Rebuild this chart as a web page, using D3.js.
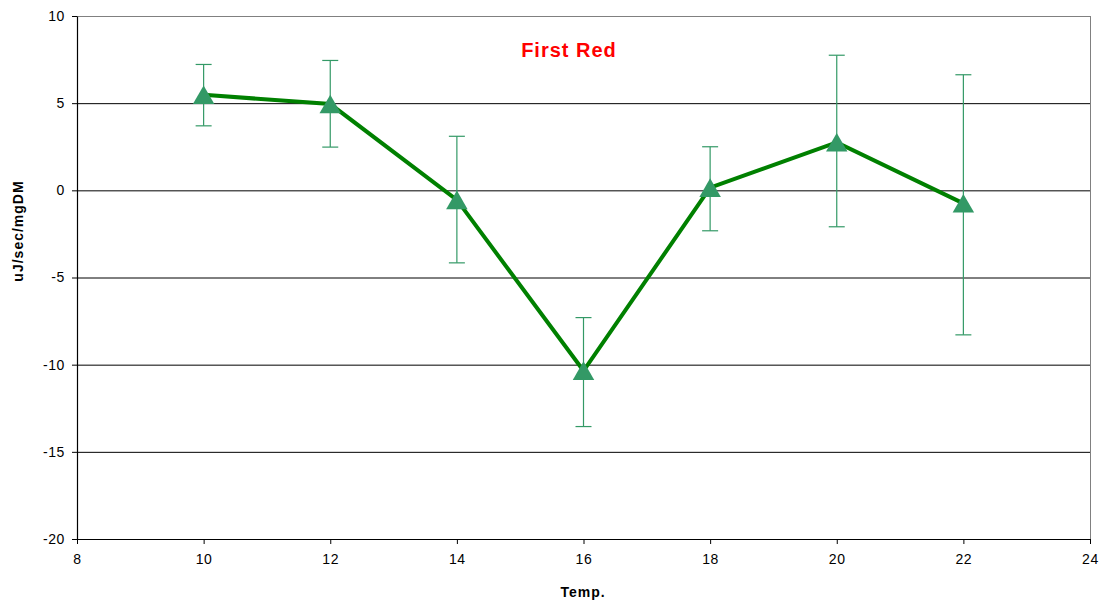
<!DOCTYPE html>
<html>
<head>
<meta charset="utf-8">
<script src="https://cdn.jsdelivr.net/npm/d3@7"></script>
<style>
  body { margin: 0; background: #fff; }
  svg { font-family: "Liberation Sans", Arial, sans-serif; }
</style>
</head>
<body>
<div id="container"></div>
<script>
// data
const temps = [10, 12, 14, 16, 18, 20, 22]
const values = [5.48, 4.95, -0.55, -10.35, 0.15, 2.75, -0.75]
const errHigh = [7.22, 7.45, 3.1, -7.3, 2.5, 7.75, 6.63]
const errLow = [3.7, 2.48, -4.16, -13.55, -2.32, -2.09, -8.29]
const xTicks = [8, 10, 12, 14, 16, 18, 20, 22, 24]
const yTicks = [10, 5, 0, -5, -10, -15, -20]

const width = 1103
const height = 606
const plotLeft = 77, plotRight = 1090, plotTop = 16, plotBottom = 539

const data = temps.map((t, i) => ({t, v: values[i], hi: errHigh[i], lo: errLow[i]}))

const xScale = d3.scaleLinear().domain([8, 24]).range([plotLeft, plotRight])
const yScale = d3.scaleLinear().domain([-20, 10]).range([plotBottom, plotTop])

const svg = d3.select('#container').append('svg')
    .attr('width', width)
    .attr('height', height)

// gridlines
svg.append('g')
    .selectAll('line')
    .data(yTicks.filter(d => d !== -20 && d !== 10))
    .enter().append('line')
    .attr('x1', plotLeft).attr('x2', plotRight)
    .attr('y1', d => yScale(d) + 0.5).attr('y2', d => yScale(d) + 0.5)
    .attr('stroke', '#000').attr('stroke-width', 1)

// frame top/right
svg.append('line').attr('x1', plotLeft).attr('x2', plotRight).attr('y1', plotTop + 0.5).attr('y2', plotTop + 0.5)
    .attr('stroke', '#808080')
svg.append('line').attr('x1', plotRight + 0.5).attr('x2', plotRight + 0.5).attr('y1', plotTop).attr('y2', plotBottom)
    .attr('stroke', '#808080')

const fmt = d => String(d)
const xAxis = d3.axisBottom(xScale).tickValues(xTicks).tickFormat(fmt).tickSize(5).tickPadding(10).tickSizeOuter(0)
const yAxis = d3.axisLeft(yScale).tickValues(yTicks).tickFormat(fmt).tickSize(5).tickPadding(7).tickSizeOuter(0)

const gx = svg.append('g')
    .attr('transform', `translate(0, ${plotBottom})`)
    .call(xAxis)
const gy = svg.append('g')
    .attr('transform', `translate(${plotLeft}, 0)`)
    .call(yAxis)

for (const g of [gx, gy]) {
    g.selectAll('path').attr('stroke', '#000').attr('stroke-width', 1.2)
    g.selectAll('line').attr('stroke', '#000')
    g.selectAll('text').attr('font-size', 14).attr('fill', '#000')
        .attr('letter-spacing', 0.6)
        .attr('font-family', '"Liberation Sans", Arial, sans-serif')
}

// error bars
const eb = svg.append('g').attr('stroke', '#339966').attr('stroke-width', 1.2)
eb.selectAll('.stem').data(data).enter().append('line')
    .attr('x1', d => xScale(d.t)).attr('x2', d => xScale(d.t))
    .attr('y1', d => yScale(d.hi)).attr('y2', d => yScale(d.lo))
eb.selectAll('.caphi').data(data).enter().append('line')
    .attr('x1', d => xScale(d.t) - 8).attr('x2', d => xScale(d.t) + 8)
    .attr('y1', d => yScale(d.hi)).attr('y2', d => yScale(d.hi))
eb.selectAll('.caplo').data(data).enter().append('line')
    .attr('x1', d => xScale(d.t) - 8).attr('x2', d => xScale(d.t) + 8)
    .attr('y1', d => yScale(d.lo)).attr('y2', d => yScale(d.lo))

// line
const line = d3.line().x(d => xScale(d.t)).y(d => yScale(d.v))
svg.append('path')
    .datum(data)
    .attr('d', line)
    .attr('fill', 'none')
    .attr('stroke', '#008000')
    .attr('stroke-width', 4)

// markers
const tri = d3.symbol().type(d3.symbolTriangle).size(200)
svg.selectAll('.dot').data(data).enter().append('path')
    .attr('d', tri)
    .attr('transform', d => `translate(${xScale(d.t)}, ${yScale(d.v) + 3})`)
    .attr('fill', '#339966')

// title and labels
svg.append('text')
    .attr('x', 569).attr('y', 57)
    .attr('text-anchor', 'middle')
    .attr('font-size', 20).attr('font-weight', 'bold')
    .attr('letter-spacing', 1)
    .attr('fill', '#ff0000')
    .text('First Red')

svg.append('text')
    .attr('x', 583).attr('y', 597)
    .attr('text-anchor', 'middle')
    .attr('font-size', 14).attr('font-weight', 'bold')
    .attr('letter-spacing', 1)
    .text('Temp.')

svg.append('text')
    .attr('transform', `translate(23, 231) rotate(-90)`)
    .attr('text-anchor', 'middle')
    .attr('font-size', 14).attr('font-weight', 'bold')
    .attr('letter-spacing', 1)
    .text('uJ/sec/mgDM')
</script>
</body>
</html>
